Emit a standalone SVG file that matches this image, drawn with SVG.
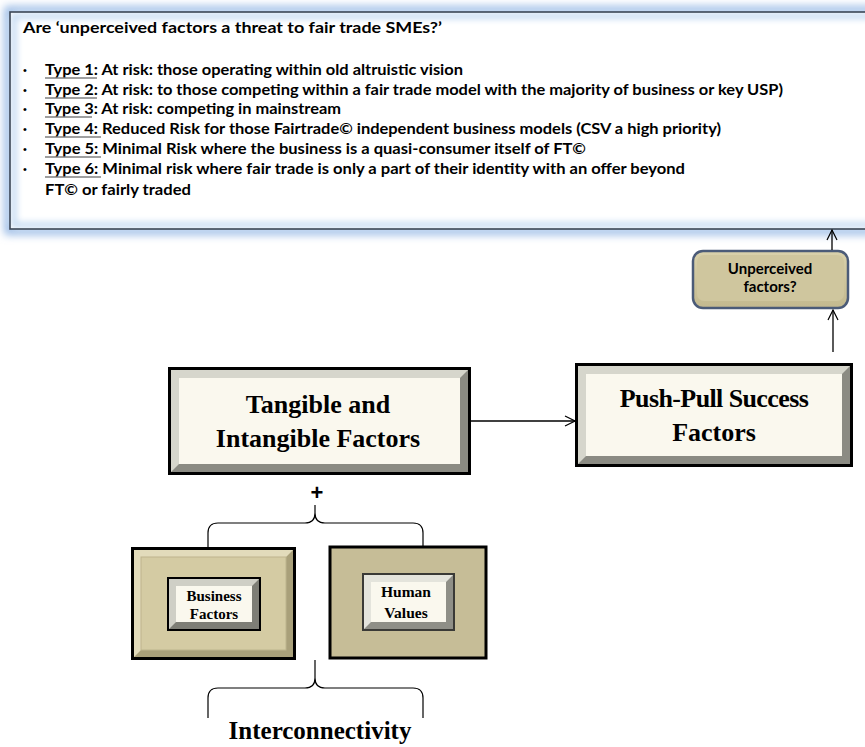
<svg xmlns="http://www.w3.org/2000/svg" width="865" height="747" viewBox="0 0 865 747">
<defs>
<filter id="glow" x="-5%" y="-10%" width="110%" height="120%"><feGaussianBlur stdDeviation="4"/></filter>
<filter id="inglow"><feGaussianBlur stdDeviation="3"/></filter>
<marker id="arr" viewBox="0 0 12 12" refX="11" refY="6" markerWidth="12" markerHeight="12" markerUnits="userSpaceOnUse" orient="auto"><path d="M1,1 L11,6 L1,11" fill="none" stroke="#000" stroke-width="1.2"/></marker>
<linearGradient id="tan" x1="0" y1="0" x2="0" y2="1"><stop offset="0" stop-color="#d9d1ab"/><stop offset="1" stop-color="#c3b98f"/></linearGradient>
</defs>
<style>
.t{font-family:Lato,"Liberation Sans",Arial,sans-serif;font-weight:bold;font-size:15px;fill:#000}
.b{font-family:"Liberation Sans",Arial,sans-serif;font-size:11px;fill:#000}
.ul{stroke:#808080;stroke-width:1.3}
.s{font-family:"Liberation Serif","Times New Roman",serif;font-weight:bold;fill:#000;text-anchor:middle}
.c{stroke:#000;stroke-width:1.3;fill:none}
.br{stroke:#000;stroke-width:1.2;fill:none}
</style>
<rect width="865" height="747" fill="#fff"/>

<g id="question">
<rect x="8" y="10" width="870" height="221" fill="none" stroke="#8fb4e3" stroke-width="7" filter="url(#glow)"/>
<rect x="10" y="12" width="870" height="217" fill="#fff"/>
<rect x="14" y="16" width="866" height="209" fill="none" stroke="#c6dbf3" stroke-width="6" filter="url(#inglow)"/>
<rect x="10" y="12" width="870" height="217" fill="none" stroke="#3b4656" stroke-width="1.6"/>
<text class="t" x="23" y="33" textLength="419" lengthAdjust="spacingAndGlyphs">Are ‘unperceived factors a threat to fair trade SMEs?’</text>
<text class="b" x="23" y="74">•</text><text class="t" x="45" y="75" textLength="418" lengthAdjust="spacingAndGlyphs">Type 1: At risk: those operating within old altruistic vision</text>
<text class="b" x="23" y="94">•</text><text class="t" x="45" y="95" textLength="738" lengthAdjust="spacingAndGlyphs">Type 2: At risk: to those competing  within a fair trade model  with the majority of business or key USP)</text>
<text class="b" x="23" y="113">•</text><text class="t" x="45" y="114" textLength="296" lengthAdjust="spacingAndGlyphs">Type 3: At risk: competing  in mainstream</text>
<text class="b" x="23" y="133">•</text><text class="t" x="45" y="134" textLength="676" lengthAdjust="spacingAndGlyphs">Type 4: Reduced Risk for those Fairtrade© independent  business models (CSV a high priority)</text>
<text class="b" x="23" y="153">•</text><text class="t" x="45" y="154" textLength="541" lengthAdjust="spacingAndGlyphs">Type 5: Minimal  Risk  where the business is a quasi-consumer  itself of FT©</text>
<text class="b" x="23" y="173">•</text><text class="t" x="45" y="174" textLength="640" lengthAdjust="spacingAndGlyphs">Type 6: Minimal  risk where fair trade is only a part of their identity with an offer beyond</text>
<text class="t" x="45" y="195" textLength="146" lengthAdjust="spacingAndGlyphs">FT© or fairly traded</text>
<line class="ul" x1="45" y1="78" x2="97" y2="78"/>
<line class="ul" x1="45" y1="98" x2="97" y2="98"/>
<line class="ul" x1="45" y1="117" x2="92" y2="117"/>
<line class="ul" x1="45" y1="137" x2="101" y2="137"/>
<line class="ul" x1="45" y1="157" x2="101" y2="157"/>
<line class="ul" x1="45" y1="177" x2="101" y2="177"/>
</g>

<g id="unperceived">
<rect x="693" y="251" width="155" height="57" rx="10" fill="#6f6a55"/>
<rect x="693" y="251" width="155" height="57" rx="10" fill="url(#tan)" stroke="#4b5b78" stroke-width="2.5"/>
<rect x="697" y="255" width="147" height="46" rx="7" fill="#cfc69e"/>
<text class="t" x="770" y="274" text-anchor="middle" font-size="13.5">Unperceived</text>
<text class="t" x="770" y="292" text-anchor="middle" font-size="13.5">factors?</text>
</g>

<g id="pushpull">
<rect x="575" y="363" width="278" height="104" fill="#000"/>
<rect x="578" y="366" width="272" height="98" fill="#8b8b83"/>
<polygon points="578,366 850,366 842,374 586,374 586,456 578,464" fill="#d6d6cc"/>
<rect x="586" y="374" width="256" height="82" fill="#faf8ee"/>
<text class="s" x="714" y="407" font-size="26" letter-spacing="-0.6">Push-Pull Success</text>
<text class="s" x="714" y="441" font-size="26">Factors</text>
</g>

<g id="tangible">
<rect x="168" y="367" width="303" height="108" fill="#000"/>
<rect x="171" y="370" width="297" height="102" fill="#8b8b83"/>
<polygon points="171,370 468,370 460,378 179,378 179,464 171,472" fill="#d6d6cc"/>
<rect x="179" y="378" width="281" height="86" fill="#faf8ee"/>
<text class="s" x="318" y="413" font-size="26">Tangible and</text>
<text class="s" x="318" y="447" font-size="26">Intangible Factors</text>
</g>

<g id="plus">
<text x="317" y="500" font-size="22" font-weight="bold" text-anchor="middle" font-family="Liberation Sans,Arial,sans-serif" fill="#000">+</text>
</g>

<g id="business">
<rect x="131" y="547" width="165" height="113" fill="#000"/>
<rect x="134" y="550" width="159" height="107" fill="#a9a07a"/>
<polygon points="134,550 293,550 286,557 141,557 141,650 134,657" fill="#e2dbbb"/>
<rect x="141" y="557" width="145" height="93" fill="#d4cba3"/>
<rect x="141" y="557" width="145" height="93" fill="none" stroke="#bdb48d" stroke-width="1"/>
<rect x="167" y="577" width="94" height="54" fill="#000"/>
<rect x="169" y="579" width="90" height="50" fill="#7e7e76"/>
<polygon points="169,579 259,579 252,586 176,586 176,622 169,629" fill="#cfcfc6"/>
<rect x="176" y="586" width="76" height="36" fill="#faf8ee"/>
<text class="s" x="214" y="601" font-size="15">Business</text>
<text class="s" x="214" y="619" font-size="15">Factors</text>
</g>

<g id="human">
<rect x="330" y="547" width="156" height="111" fill="#c6bd97" stroke="#000" stroke-width="3"/>
<rect x="362" y="573" width="93" height="58" fill="#3a3a36"/>
<rect x="364" y="575" width="89" height="54" fill="#8f8f87"/>
<polygon points="364,575 453,575 446,582 371,582 371,622 364,629" fill="#e4e4dc"/>
<rect x="371" y="582" width="75" height="40" fill="#faf8ee"/>
<text class="s" x="406" y="597" font-size="15.5">Human</text>
<text class="s" x="406" y="618" font-size="15.5">Values</text>
</g>

<g id="connectors">
<line class="c" x1="471" y1="421" x2="575" y2="421" marker-end="url(#arr)"/>
<line class="c" x1="833" y1="352" x2="833" y2="310" marker-end="url(#arr)"/>
<line class="c" x1="832" y1="250" x2="832" y2="230" marker-end="url(#arr)"/>
<path class="br" d="M208,547 L208,533 Q208,523 218,523 L305,523 Q315,523 315,513 L315,505 M315,513 Q315,523 325,523 L413,523 Q423,523 423,533 L423,547"/>
<path class="br" d="M208,718 L208,698 Q208,688 218,688 L305,688 Q315,688 315,678 L315,660 M315,678 Q315,688 325,688 L413,688 Q423,688 423,698 L423,718"/>
</g>

<g id="interconnectivity">
<text class="s" x="320" y="739" font-size="25">Interconnectivity</text>
</g>
</svg>
